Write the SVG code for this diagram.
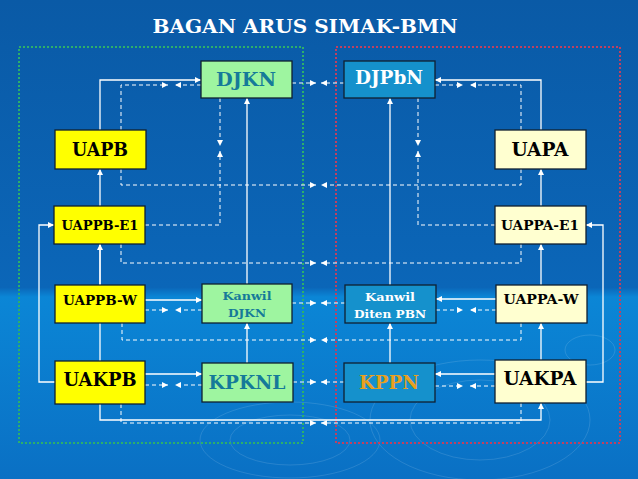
<svg xmlns="http://www.w3.org/2000/svg" width="638" height="479" viewBox="0 0 638 479">
<defs>
<linearGradient id="bg" x1="0" y1="0" x2="0" y2="1">
<stop offset="0" stop-color="#0a5aa6"/><stop offset="0.6" stop-color="#0b66b8"/><stop offset="0.62" stop-color="#0b86d6"/><stop offset="1" stop-color="#0a70c4"/>
</linearGradient>
<marker id="a" markerUnits="userSpaceOnUse" markerWidth="7" markerHeight="7" refX="6" refY="3" orient="auto"><path d="M0,0 L6,3 L0,6 z" fill="#fff"/></marker>
<style>
.s{fill:none;stroke:#fff;stroke-width:1.3;marker-end:url(#a)}
.d{fill:none;stroke:#fff;stroke-width:1;stroke-dasharray:4 3;marker-end:url(#a)}
.b{stroke:#102030;stroke-width:1.3}
.y{fill:#ffff00}.c{fill:#ffffd0}.g{fill:#9ef5a0}.u{fill:#1591cc}
text{font-family:"DejaVu Serif","Liberation Serif",serif;font-weight:bold;text-anchor:middle}
.k{fill:#000}.t{fill:#157a99}.w{fill:#fff}.o{fill:#e8a020}
</style>
</defs>
<rect width="638" height="479" fill="url(#bg)"/>
<g fill="none" stroke="#ffffff" stroke-opacity="0.12">
<ellipse cx="290" cy="440" rx="60" ry="25"/><ellipse cx="290" cy="440" rx="90" ry="38"/><ellipse cx="480" cy="420" rx="70" ry="40"/><ellipse cx="480" cy="420" rx="110" ry="60"/><ellipse cx="590" cy="350" rx="25" ry="15"/>
</g>
<text x="305" y="33" font-size="18" class="w" textLength="305" lengthAdjust="spacingAndGlyphs">BAGAN ARUS SIMAK-BMN</text>
<rect x="19" y="47" width="284" height="396" fill="none" stroke="#2db06a" stroke-width="2" stroke-dasharray="2 2"/>
<rect x="336" y="47" width="284" height="396" fill="none" stroke="#c04060" stroke-width="2" stroke-dasharray="2 2"/>
<g id="connectors">
<path class="s" d="M100,130 V80 H201"/>
<path class="d" d="M121,130 V85 H168"/><path class="d" d="M201,85 H175"/>
<path class="d" d="M292,83 H316"/><path class="d" d="M344,83 H321"/>
<path class="d" d="M220,98 V146"/><path class="d" d="M145,225 H220 V151"/>
<path class="d" d="M121,169 V185 H316"/><path class="d" d="M521,169 V185 H321"/>
<path class="s" d="M100,206 V169"/>
<path class="s" d="M100,361 V206"/>
<path class="s" d="M55,382 H39 V225 H54"/>
<path class="d" d="M121,244 V263 H316"/><path class="d" d="M521,244 V263 H321"/>
<path class="s" d="M100,285 V244"/>
<path class="s" d="M247,284 V98"/>
<path class="s" d="M145,300 H202"/>
<path class="d" d="M145,310 H168"/><path class="d" d="M202,310 H175"/>
<path class="d" d="M292,303 H316"/><path class="d" d="M345,303 H321"/>
<path class="d" d="M122,323 V340 H316"/><path class="d" d="M521,323 V340 H321"/>
<path class="s" d="M247,363 V323"/>
<path class="s" d="M145,374 H202"/>
<path class="d" d="M145,385 H168"/><path class="d" d="M202,385 H175"/>
<path class="d" d="M293,382 H316"/><path class="d" d="M344,382 H321"/>
<path class="s" d="M100,404 V420 H541 V403"/>
<path class="d" d="M121,404 V423 H316"/><path class="d" d="M521,403 V423 H321"/>
<path class="s" d="M541,130 V80 H435"/>
<path class="d" d="M521,130 V85 H470"/><path class="d" d="M435,85 H463"/>
<path class="d" d="M418,98 V146"/><path class="d" d="M495,225 H418 V151"/>
<path class="s" d="M541,206 V169"/>
<path class="s" d="M586,382 H603 V225 H586"/>
<path class="s" d="M541,285 V244"/>
<path class="s" d="M541,360 V323"/>
<path class="s" d="M390,285 V98"/>
<path class="s" d="M496,299 H436"/>
<path class="d" d="M496,310 H470"/><path class="d" d="M436,310 H463"/>
<path class="s" d="M390,363 V323"/>
<path class="s" d="M495,374 H435"/>
<path class="d" d="M495,386 H470"/><path class="d" d="M435,386 H463"/>
</g>
<g id="DJKN"><rect class="b g" x="201" y="61" width="91" height="37"/><text x="246" y="86" font-size="18" class="t" textLength="60" lengthAdjust="spacingAndGlyphs">DJKN</text></g>
<g id="UAPB"><rect class="b y" x="55" y="130" width="91" height="39"/><text x="100" y="156" font-size="18" class="k" textLength="56" lengthAdjust="spacingAndGlyphs">UAPB</text></g>
<g id="UAPPB-E1"><rect class="b y" x="54" y="206" width="91" height="38"/><text x="100" y="230" font-size="13" class="k" textLength="77" lengthAdjust="spacingAndGlyphs">UAPPB-E1</text></g>
<g id="UAPPB-W"><rect class="b y" x="55" y="285" width="90" height="38"/><text x="100" y="305" font-size="13" class="k" textLength="74" lengthAdjust="spacingAndGlyphs">UAPPB-W</text></g>
<g id="Kanwil-DJKN"><rect class="b g" x="202" y="284" width="90" height="39"/><text x="247" y="300" font-size="11" class="t" textLength="49" lengthAdjust="spacingAndGlyphs">Kanwil</text><text x="247" y="317" font-size="11" class="t" textLength="38" lengthAdjust="spacingAndGlyphs">DJKN</text></g>
<g id="UAKPB"><rect class="b y" x="55" y="361" width="90" height="43"/><text x="100" y="386" font-size="18" class="k" textLength="73" lengthAdjust="spacingAndGlyphs">UAKPB</text></g>
<g id="KPKNL"><rect class="b g" x="202" y="363" width="91" height="39"/><text x="247" y="389" font-size="18" class="t" textLength="77" lengthAdjust="spacingAndGlyphs">KPKNL</text></g>
<g id="DJPbN"><rect class="b u" x="344" y="61" width="91" height="37"/><text x="389" y="84" font-size="18" class="w" textLength="68" lengthAdjust="spacingAndGlyphs">DJPbN</text></g>
<g id="UAPA"><rect class="b c" x="495" y="130" width="91" height="39"/><text x="540" y="156" font-size="18" class="k" textLength="57" lengthAdjust="spacingAndGlyphs">UAPA</text></g>
<g id="UAPPA-E1"><rect class="b c" x="495" y="206" width="91" height="38"/><text x="540" y="230" font-size="13" class="k" textLength="78" lengthAdjust="spacingAndGlyphs">UAPPA-E1</text></g>
<g id="Kanwil-Diten-PBN"><rect class="b u" x="345" y="285" width="91" height="38"/><text x="390" y="301" font-size="11" class="w" textLength="50" lengthAdjust="spacingAndGlyphs">Kanwil</text><text x="390" y="318" font-size="11" class="w" textLength="72" lengthAdjust="spacingAndGlyphs">Diten PBN</text></g>
<g id="UAPPA-W"><rect class="b c" x="496" y="285" width="91" height="38"/><text x="541" y="304" font-size="13" class="k" textLength="75" lengthAdjust="spacingAndGlyphs">UAPPA-W</text></g>
<g id="KPPN"><rect class="b u" x="344" y="363" width="91" height="39"/><text x="389" y="389" font-size="18" class="o" textLength="60" lengthAdjust="spacingAndGlyphs">KPPN</text></g>
<g id="UAKPA"><rect class="b c" x="495" y="360" width="91" height="43"/><text x="540" y="385" font-size="18" class="k" textLength="73" lengthAdjust="spacingAndGlyphs">UAKPA</text></g>
</svg>
